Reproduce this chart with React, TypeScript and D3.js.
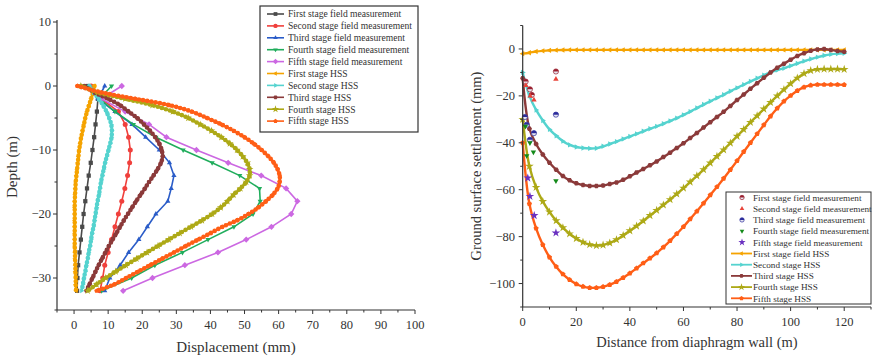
import * as d3 from 'd3';

type Shape = 'square' | 'circle' | 'triUp' | 'triDown' | 'diamond' | 'triLeft' | 'triRight' | 'hexagon' | 'star' | 'pentagon' | 'halfCircle';

// ---- left panel: wall displacement vs depth ----
const FIELD_DEPTH = [0, -2, -4, -6, -8, -10, -12, -14, -16, -18, -20, -22, -24, -26, -28, -30, -32];
const FIELD_1 = [4, 7, 6.7, 6.3, 5.9, 5.4, 4.9, 4.3, 3.8, 3.3, 2.8, 2.4, 2.0, 1.6, 1.2, 1.0, 0.9];
const FIELD_2 = [5, 8, 13, 15, 16, 16.5, 16.3, 15.7, 14.9, 14, 13, 12, 11, 10, 9, 8.4, 7.6];
const FIELD_3 = [9, 7, 12, 17, 21, 25, 28, 29.3, 28.5, 27.5, 24, 21.5, 19, 16, 13.5, 10.5, 9];
const FIELD_4 = [11, 7.5, 12, 17.4, 24, 32, 40.5, 48.6, 54.4, 54.6, 52.5, 46.9, 39.3, 31.8, 23.7, 16.9, 8.1];
const FIELD_5 = [14, 8, 15, 22, 27.1, 35.9, 45.2, 54.9, 62.2, 65.5, 63.7, 57.9, 50.5, 42.2, 32.5, 23, 14.4];

const HSS_DEPTH = [0, -1, -2, -3, -4, -5, -6, -7, -8, -9, -10, -11, -12, -13, -14, -15, -16, -17, -18, -19, -20, -21, -22, -23, -24, -25, -26, -27, -28, -29, -30, -31, -32];
const HSS_1 = [6, 5.6, 5.0, 4.4, 3.8, 3.3, 2.9, 2.5, 2.1, 1.8, 1.5, 1.3, 1.1, 0.9, 0.7, 0.5, 0.4, 0.3, 0.2, 0.2, 0.2, 0.2, 0.2, 0.2, 0.2, 0.2, 0.3, 0.3, 0.4, 0.4, 0.5, 0.5, 0.6];
const HSS_2 = [4.5, 5.8, 7.2, 8.5, 9.5, 10.3, 10.9, 11.1, 11, 10.6, 10.1, 9.6, 9.1, 8.7, 8.3, 7.9, 7.6, 7.3, 6.9, 6.6, 6.3, 6, 5.7, 5.3, 5, 4.7, 4.3, 4, 3.6, 3.3, 2.9, 2.6, 2.2];
const HSS_3 = [3, 6, 10, 13.5, 16, 18.5, 20.5, 22.3, 23.8, 25, 25.7, 26, 25.5, 24.5, 23.3, 22, 20.8, 19.5, 18.2, 17, 15.8, 14.6, 13.5, 12.4, 11.3, 10.2, 9.2, 8.2, 7.2, 6.3, 5.4, 4.5, 3.6];
const HSS_4 = [2, 7, 15, 23, 29, 33.5, 37, 40.3, 43.2, 45.7, 47.8, 49.5, 50.8, 51.5, 51.5, 50.5, 48.8, 46.8, 45, 43, 40.5, 37.5, 34.3, 31, 27.8, 24.6, 21.4, 18.3, 15.2, 12.2, 9.3, 6.6, 4];
const HSS_5 = [1, 8, 18, 28, 34.5, 39, 43.2, 46.8, 50, 52.7, 55, 57, 58.6, 59.7, 60.3, 60.3, 59.7, 58.3, 56.3, 54, 51.2, 47.8, 43.5, 40, 36.4, 32.8, 29.3, 25.8, 22.3, 18.8, 15.3, 11.8, 6.6];

// ---- right panel: ground surface settlement ----
const DIST = [0, 2.5, 5, 7.5, 10, 12.5, 15, 17.5, 20, 22.5, 25, 27.5, 30, 32.5, 35, 37.5, 40, 42.5, 45, 47.5, 50, 52.5, 55, 57.5, 60, 62.5, 65, 67.5, 70, 72.5, 75, 77.5, 80, 82.5, 85, 87.5, 90, 92.5, 95, 97.5, 100, 102.5, 105, 107.5, 110, 112.5, 115, 117.5, 120];
const SET_HSS_1 = [-2, -1.6, -1.1, -0.8, -0.6, -0.5, -0.45, -0.4, -0.4, -0.4, -0.4, -0.4, -0.4, -0.4, -0.4, -0.4, -0.4, -0.4, -0.4, -0.4, -0.4, -0.4, -0.4, -0.4, -0.4, -0.4, -0.4, -0.4, -0.4, -0.4, -0.4, -0.4, -0.4, -0.4, -0.4, -0.4, -0.4, -0.4, -0.4, -0.4, -0.4, -0.4, -0.4, -0.4, -0.4, -0.4, -0.4, -0.4, -0.4];
const SET_HSS_2 = [-10, -20, -26, -30.5, -34.3, -37, -39.3, -40.9, -41.8, -42.2, -42.4, -42.3, -41.5, -40.5, -39.5, -38.4, -37.3, -36.2, -35.1, -34, -33, -31.9, -30.7, -29.5, -28.1, -26.7, -25.2, -23.7, -22.3, -20.9, -19.5, -18, -16.6, -15.2, -13.8, -12.5, -11.2, -10, -9, -8.2, -7.2, -6.2, -5.2, -4.3, -3.5, -2.8, -2.3, -2, -1.8];
const SET_HSS_3 = [-12.5, -34, -40.5, -45, -48.5, -51.5, -54.2, -56, -57.3, -58, -58.4, -58.4, -58.2, -57.6, -56.9, -55.8, -54.3, -52.7, -51.2, -49.6, -48, -46.1, -44.2, -42.2, -40.2, -38, -35.8, -33.5, -31.2, -29, -26.8, -24.3, -21.8, -19.4, -17, -14.6, -12.3, -10, -8, -6.3, -4.6, -3, -1.8, -0.8, -0.2, 0, -0.4, -0.9, -1.2];
const SET_HSS_4 = [-30, -50, -59, -65, -69.5, -73.2, -76.2, -78.8, -80.8, -82.4, -83.4, -83.8, -83.6, -82.7, -81.3, -79.5, -77.5, -75.5, -73.3, -71, -68.8, -66.5, -64.2, -61.8, -59.3, -56.7, -54.1, -51.4, -48.6, -45.8, -43, -40.1, -37.2, -34.3, -31.3, -28.5, -25.6, -22.8, -20, -17.3, -14.8, -12.4, -10.5, -9.2, -8.7, -8.6, -8.6, -8.6, -8.7];
const SET_HSS_5 = [-40, -66, -76.5, -83.5, -88.8, -92.8, -96, -98.4, -100.2, -101.3, -101.8, -101.8, -101.4, -100.5, -99.2, -97.5, -95.6, -93.5, -91.3, -89.2, -87, -84.5, -81.8, -78.8, -75.8, -72.5, -69.2, -65.8, -62.3, -58.8, -55.2, -51.5, -47.7, -43.8, -40, -36.2, -32.4, -28.7, -25.3, -22.3, -19.9, -17.8, -16.3, -15.5, -15.2, -15.2, -15.2, -15.2, -15.3];

const MEAS_1_X = [1.1, 2.7, 3.4, 12.4];
const MEAS_1_Y = [-13.9, -17.2, -19.6, -9.6];
const MEAS_2_X = [1.2, 2.8, 4.2, 12.4];
const MEAS_2_Y = [-15.5, -20, -21.7, -12.9];
const MEAS_3_X = [0.8, 1.5, 2.7, 4.2, 12.4];
const MEAS_3_Y = [-29, -32.3, -38.7, -35.9, -28];
const MEAS_4_X = [1, 1.5, 2.7, 4, 12.4];
const MEAS_4_Y = [-33, -45.5, -40, -44, -56.2];
const MEAS_5_X = [1.9, 2.7, 4.3, 12.4];
const MEAS_5_Y = [-55, -62.8, -71, -78.4];

const FONT = '"Liberation Serif", "Times New Roman", serif';
const C = {
  f1: '#4a4a4a', f2: '#f0403c', f3: '#2a5cc8', f4: '#20ad5c', f5: '#cc68e2',
  h1: '#f5a300', h2: '#55d3cf', h3: '#8b3a3a', h4: '#ada916', h5: '#ff5e16',
};

const LEFT_FIELD = [
  { name: 'First stage field measurement', d: FIELD_1, color: C.f1, shape: 'square' as Shape },
  { name: 'Second stage field measurement', d: FIELD_2, color: C.f2, shape: 'circle' as Shape },
  { name: 'Third stage field measurement', d: FIELD_3, color: C.f3, shape: 'triUp' as Shape },
  { name: 'Fourth stage field measurement', d: FIELD_4, color: C.f4, shape: 'triDown' as Shape },
  { name: 'Fifth stage field measurement', d: FIELD_5, color: C.f5, shape: 'diamond' as Shape },
];
const LEFT_HSS = [
  { name: 'First stage HSS', d: HSS_1, color: C.h1, shape: 'triLeft' as Shape },
  { name: 'Second stage HSS', d: HSS_2, color: C.h2, shape: 'triRight' as Shape },
  { name: 'Third stage HSS', d: HSS_3, color: C.h3, shape: 'hexagon' as Shape },
  { name: 'Fourth stage HSS', d: HSS_4, color: C.h4, shape: 'star' as Shape },
  { name: 'Fifth stage HSS', d: HSS_5, color: C.h5, shape: 'pentagon' as Shape },
];
const RIGHT_MEAS = [
  { name: 'First stage field measurement', xs: MEAS_1_X, ys: MEAS_1_Y, color: '#9a1f2e', shape: 'halfCircle' as Shape },
  { name: 'Second stage field measurement', xs: MEAS_2_X, ys: MEAS_2_Y, color: '#e8443a', shape: 'triUp' as Shape },
  { name: 'Third stage field measurement', xs: MEAS_3_X, ys: MEAS_3_Y, color: '#2c2c9c', shape: 'halfCircle' as Shape },
  { name: 'Fourth stage field measurement', xs: MEAS_4_X, ys: MEAS_4_Y, color: '#148a1a', shape: 'triDown' as Shape },
  { name: 'Fifth stage field measurement', xs: MEAS_5_X, ys: MEAS_5_Y, color: '#6a30c0', shape: 'star' as Shape },
];
const RIGHT_HSS = [
  { name: 'First stage field HSS', d: SET_HSS_1, color: C.h1, shape: 'triLeft' as Shape },
  { name: 'Second stage HSS', d: SET_HSS_2, color: C.h2, shape: 'triRight' as Shape },
  { name: 'Third stage HSS', d: SET_HSS_3, color: C.h3, shape: 'hexagon' as Shape },
  { name: 'Fourth stage HSS', d: SET_HSS_4, color: C.h4, shape: 'star' as Shape },
  { name: 'Fifth stage HSS', d: SET_HSS_5, color: C.h5, shape: 'pentagon' as Shape },
];

function polygon(n: number, r: number, rot: number) {
  const pts = d3.range(n).map(i => {
    const a = rot + (i * 2 * Math.PI) / n;
    return `${(r * Math.cos(a)).toFixed(2)},${(r * Math.sin(a)).toFixed(2)}`;
  });
  return 'M' + pts.join('L') + 'Z';
}

function markerPath(shape: Shape, r: number): string {
  switch (shape) {
    case 'square': return `M${-r * 0.85},${-r * 0.85}h${r * 1.7}v${r * 1.7}h${-r * 1.7}Z`;
    case 'triUp': return polygon(3, r * 1.2, -Math.PI / 2);
    case 'triDown': return polygon(3, r * 1.2, Math.PI / 2);
    case 'triLeft': return polygon(3, r * 1.2, Math.PI);
    case 'triRight': return polygon(3, r * 1.2, 0);
    case 'diamond': return polygon(4, r * 1.25, -Math.PI / 2);
    case 'hexagon': return polygon(6, r, 0);
    case 'pentagon': return polygon(5, r * 1.05, -Math.PI / 2);
    case 'star': return d3.symbol(d3.symbolStar, r * r * 3.4)() ?? '';
    default: return d3.symbol(d3.symbolCircle, Math.PI * r * r)() ?? '';
  }
}

function Marker({ shape, x, y, r, color }: { shape: Shape; x: number; y: number; r: number; color: string }) {
  if (shape === 'halfCircle') {
    return (
      <g transform={`translate(${x},${y})`}>
        <circle r={r} fill="#e6e6f0" stroke={color} strokeWidth={0.7} />
        <path d={`M${-r},0A${r},${r} 0 0 1 ${r},0Z`} fill={color} />
      </g>
    );
  }
  return <path transform={`translate(${x},${y})`} d={markerPath(shape, r)} fill={color} />;
}

const fmt = (v: number) => (v < 0 ? '\u2212' + Math.abs(v) : String(v));

function LeftPanel() {
  const x = d3.scaleLinear().domain([-5, 100]).range([57, 415]);
  const y = d3.scaleLinear().domain([-35, 10]).range([310, 22]);
  const line = (vals: number[], depths: number[], curve: d3.CurveFactory) =>
    d3.line<number>().x(v => x(v)).y((_, i) => y(depths[i])).curve(curve)(vals) ?? '';
  const xMajor = d3.range(0, 101, 10);
  const xMinor = d3.range(-5, 100, 10);
  const yMajor = [-30, -20, -10, 0, 10];
  const yMinor = [-35, -25, -15, -5, 5];
  const lx0 = 260, ly0 = 6;

  return (
    <g>
      {LEFT_FIELD.map(s => (
        <g key={s.name}>
          <path d={line(s.d, FIELD_DEPTH, d3.curveLinear)} fill="none" stroke={s.color} strokeWidth={1.6} />
          {s.d.map((v, i) => <Marker key={i} shape={s.shape} x={x(v)} y={y(FIELD_DEPTH[i])} r={2.5} color={s.color} />)}
        </g>
      ))}
      {LEFT_HSS.map(s => (
        <g key={s.name}>
          <path d={line(s.d, HSS_DEPTH, d3.curveCatmullRom)} fill="none" stroke={s.color} strokeWidth={2.4} />
          <path d={line(s.d, HSS_DEPTH, d3.curveCatmullRom)} fill="none" stroke={s.color} strokeWidth={4.6} strokeLinecap="round" strokeDasharray="0 4.2" />
          {s.d.map((v, i) => <Marker key={i} shape={s.shape} x={x(v)} y={y(HSS_DEPTH[i])} r={2.3} color={s.color} />)}
        </g>
      ))}

      <line x1={x(-5)} x2={x(100)} y1={y(-35)} y2={y(-35)} stroke="#333" strokeWidth={1.2} />
      <line x1={x(-5)} x2={x(-5)} y1={y(-35)} y2={y(10) - 2} stroke="#333" strokeWidth={1.2} />
      {xMajor.map(t => (
        <g key={t}>
          <line x1={x(t)} x2={x(t)} y1={y(-35)} y2={y(-35) + 4} stroke="#333" />
          <text x={x(t)} y={329} textAnchor="middle" fontSize={12.5} fontFamily={FONT} fill="#333">{fmt(t)}</text>
        </g>
      ))}
      {xMinor.map(t => <line key={t} x1={x(t)} x2={x(t)} y1={y(-35)} y2={y(-35) + 2.5} stroke="#333" />)}
      {yMajor.map(t => (
        <g key={t}>
          <line x1={x(-5) - 4} x2={x(-5)} y1={y(t)} y2={y(t)} stroke="#333" />
          <text x={51} y={y(t) + 4.3} textAnchor="end" fontSize={12.5} fontFamily={FONT} fill="#333">{fmt(t)}</text>
        </g>
      ))}
      {yMinor.map(t => <line key={t} x1={x(-5) - 2.5} x2={x(-5)} y1={y(t)} y2={y(t)} stroke="#333" />)}
      <text x={236} y={352} textAnchor="middle" fontSize={15} fontFamily={FONT} fill="#333">Displacement (mm)</text>
      <text transform={`translate(17,${167}) rotate(-90)`} textAnchor="middle" fontSize={15} fontFamily={FONT} fill="#333">Depth (m)</text>

      <rect x={lx0} y={ly0} width={158} height={126} fill="#fff" stroke="#333" strokeWidth={1.2} />
      {[...LEFT_FIELD, ...LEFT_HSS].map((s, i) => {
        const yy = 14 + i * 11.9;
        return (
          <g key={s.name}>
            <line x1={267} x2={284} y1={yy} y2={yy} stroke={s.color} strokeWidth={1.6} />
            <Marker shape={s.shape} x={275.5} y={yy} r={2.2} color={s.color} />
            <text x={288} y={yy + 3.3} fontSize={9.6} fontFamily={FONT} fill="#333">{s.name}</text>
          </g>
        );
      })}
    </g>
  );
}

function RightPanel() {
  const x = d3.scaleLinear().domain([0, 130]).range([522.7, 871]);
  const y = d3.scaleLinear().domain([-110, 10]).range([307, 25.5]);
  const line = (vals: number[]) =>
    d3.line<number>().x((_, i) => x(DIST[i])).y(v => y(v)).curve(d3.curveCatmullRom)(vals) ?? '';
  const xMajor = d3.range(0, 121, 20);
  const xMinor = d3.range(10, 131, 20);
  const yMajor = d3.range(-100, 1, 20);
  const yMinor = d3.range(-110, 11, 20);

  return (
    <g>
      {RIGHT_HSS.map(s => (
        <g key={s.name}>
          <path d={line(s.d)} fill="none" stroke={s.color} strokeWidth={2.4} />
          {s.d.map((v, i) => <Marker key={i} shape={s.shape} x={x(DIST[i])} y={y(v)} r={2.6} color={s.color} />)}
        </g>
      ))}
      {RIGHT_MEAS.map(s => (
        <g key={s.name}>
          {s.xs.map((v, i) => <Marker key={i} shape={s.shape} x={x(v)} y={y(s.ys[i])} r={2.6} color={s.color} />)}
        </g>
      ))}

      <line x1={x(0)} x2={x(130)} y1={y(-110)} y2={y(-110)} stroke="#333" strokeWidth={1.2} />
      <line x1={x(0)} x2={x(0)} y1={y(-110)} y2={y(10)} stroke="#333" strokeWidth={1.2} />
      {xMajor.map(t => (
        <g key={t}>
          <line x1={x(t)} x2={x(t)} y1={y(-110)} y2={y(-110) + 4} stroke="#333" />
          <text x={x(t)} y={326} textAnchor="middle" fontSize={12.5} fontFamily={FONT} fill="#333">{fmt(t)}</text>
        </g>
      ))}
      {xMinor.map(t => <line key={t} x1={x(t)} x2={x(t)} y1={y(-110)} y2={y(-110) + 2.5} stroke="#333" />)}
      {yMajor.map(t => (
        <g key={t}>
          <line x1={x(0) - 4} x2={x(0)} y1={y(t)} y2={y(t)} stroke="#333" />
          <text x={515} y={y(t) + 4.3} textAnchor="end" fontSize={12.5} fontFamily={FONT} fill="#333">{fmt(t)}</text>
        </g>
      ))}
      {yMinor.map(t => <line key={t} x1={x(0) - 2.5} x2={x(0)} y1={y(t)} y2={y(t)} stroke="#333" />)}
      <text x={697} y={347} textAnchor="middle" fontSize={14.5} fontFamily={FONT} fill="#333">Distance from diaphragm wall (m)</text>
      <text transform={`translate(481,${166}) rotate(-90)`} textAnchor="middle" fontSize={14.5} fontFamily={FONT} fill="#333">Ground surface settlement (mm)</text>

      <rect x={726} y={192} width={145} height={112} fill="#fff" stroke="#333" strokeWidth={1} />
      {RIGHT_MEAS.map((s, i) => {
        const yy = 197.5 + i * 11.2;
        return (
          <g key={s.name}>
            <Marker shape={s.shape} x={742} y={yy} r={2.2} color={s.color} />
            <text x={753} y={yy + 3.2} fontSize={9.2} fontFamily={FONT} fill="#333">{s.name}</text>
          </g>
        );
      })}
      {RIGHT_HSS.map((s, i) => {
        const yy = 197.5 + (i + 5) * 11.2;
        return (
          <g key={s.name}>
            <line x1={731} x2={752} y1={yy} y2={yy} stroke={s.color} strokeWidth={1.8} />
            <Marker shape={s.shape} x={741.5} y={yy} r={2.2} color={s.color} />
            <text x={753} y={yy + 3.2} fontSize={9.2} fontFamily={FONT} fill="#333">{s.name}</text>
          </g>
        );
      })}
    </g>
  );
}

export default function App() {
  return (
    <svg width={873} height={359} viewBox="0 0 873 359" style={{ position: 'absolute', left: 0, top: 0, background: '#fff' }}>
      <rect width={873} height={359} fill="#fff" />
      <LeftPanel />
      <RightPanel />
    </svg>
  );
}
